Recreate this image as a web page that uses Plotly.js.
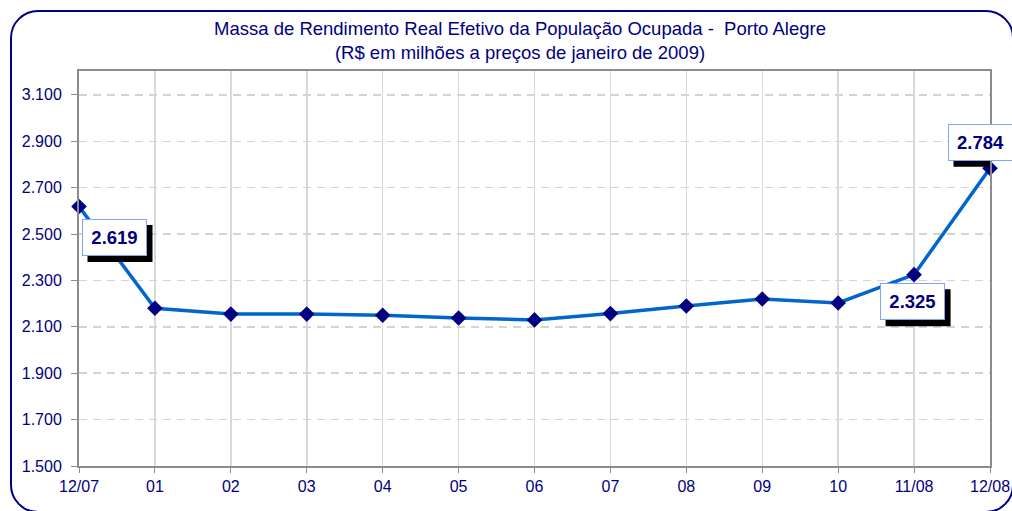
<!DOCTYPE html>
<html>
<head>
<meta charset="utf-8">
<script src="https://cdn.plot.ly/plotly-3.0.1.min.js"></script>
<style>
  html, body { margin: 0; padding: 0; background: #fff; }
  #wrap { position: relative; width: 1012px; height: 511px; overflow: hidden; }
  #chart { width: 1012px; height: 511px; }
  #frame { position: absolute; left: 10px; top: 10px; width: 1004px; height: 503px;
           box-sizing: border-box; border: 2px solid #000080; border-radius: 28px;
           pointer-events: none; }
</style>
</head>
<body>
<div id="wrap">
  <div id="chart"></div>
  <div id="frame"></div>
</div>
<script>
// Data
const categories = ["12/07", "01", "02", "03", "04", "05", "06", "07", "08", "09", "10", "11/08", "12/08"];
const values = [2619, 2180, 2155, 2155, 2150, 2138, 2130, 2157, 2190, 2220, 2203, 2325, 2784];
const yTicks = [1500, 1700, 1900, 2100, 2300, 2500, 2700, 2900, 3100];
const labeledIdx = [0, 11, 12];
const labelShift = { 0: [35, -31], 11: [-2, -27], 12: [-10, 26] };

const FONT = "Liberation Sans, Arial, sans-serif";
const NAVY = "#000080";

function fmt(v) {
  return String(v).replace(/\B(?=(\d{3})+(?!\d))/g, ".");
}

const trace = {
  x: categories,
  y: values,
  type: "scatter",
  mode: "lines+markers",
  cliponaxis: false,
  line: { color: "#0066CC", width: 3.5 },
  marker: { symbol: "diamond", size: 12, color: NAVY, line: { width: 0 } },
  hoverinfo: "x+y"
};

const BW = 65, BH = 37, SH = 6;
const annotations = [];
const shapes = [];
labeledIdx.forEach(i => {
  const [sx, sy] = labelShift[i];
  // black drop shadow behind the label box
  shapes.push({
    type: "rect", layer: "above",
    xref: "x", yref: "y", xsizemode: "pixel", ysizemode: "pixel",
    xanchor: categories[i], yanchor: values[i],
    x0: sx - BW / 2 + SH, x1: sx + BW / 2 + SH,
    y0: sy - BH / 2 - SH, y1: sy + BH / 2 - SH,
    fillcolor: "#000000", line: { width: 0 }
  });
  annotations.push({
    x: categories[i], y: values[i], xref: "x", yref: "y",
    showarrow: false, width: BW - 4, height: BH - 4, borderpad: 1, borderwidth: 1,
    xshift: sx, yshift: sy, bgcolor: "#FFFFFF", bordercolor: "#7FA6FF",
    font: { family: FONT, size: 18.5, color: NAVY },
    text: "<b>" + fmt(values[i]) + "</b>"
  });
});

const layout = {
  width: 1012, height: 511,
  margin: { l: 79, r: 22, t: 71, b: 45, pad: 0 },
  paper_bgcolor: "#FFFFFF",
  plot_bgcolor: "#FFFFFF",
  separators: ",.",
  showlegend: false,
  font: { family: FONT, color: NAVY, size: 16 },
  title: {
    text: "Massa de Rendimento Real Efetivo da População Ocupada -  Porto Alegre<br>(R$ em milhões a preços de janeiro de 2009)",
    font: { family: FONT, size: 18.5, color: NAVY },
    x: 520 / 1012, xanchor: "center", xref: "container",
    y: 1 - 35 / 511, yanchor: "top", yref: "container"
  },
  xaxis: {
    type: "category",
    range: [0, categories.length - 1],
    showgrid: true, gridcolor: "#D9D9D9", gridwidth: 1.5,
    showline: true, linecolor: "#8C8C8C", linewidth: 2, mirror: true,
    ticks: "outside", ticklen: 5, tickcolor: "#8C8C8C", tickwidth: 1,
    tickfont: { family: FONT, size: 16, color: NAVY },
    zeroline: false, fixedrange: true
  },
  yaxis: {
    range: [1500, 3203],
    tickvals: yTicks,
    tickformat: ",d",
    showgrid: true, gridcolor: "#D4D4D4", gridwidth: 1.5, griddash: "8px,6px",
    showline: true, linecolor: "#8C8C8C", linewidth: 2, mirror: true,
    ticks: "outside", ticklen: 6, tickcolor: "#8C8C8C", tickwidth: 1,
    ticklabelstandoff: 6,
    tickfont: { family: FONT, size: 16, color: NAVY },
    zeroline: false, fixedrange: true
  },
  shapes: shapes,
  annotations: annotations
};

Plotly.newPlot("chart", [trace], layout, { displayModeBar: false, staticPlot: true });
</script>
</body>
</html>
